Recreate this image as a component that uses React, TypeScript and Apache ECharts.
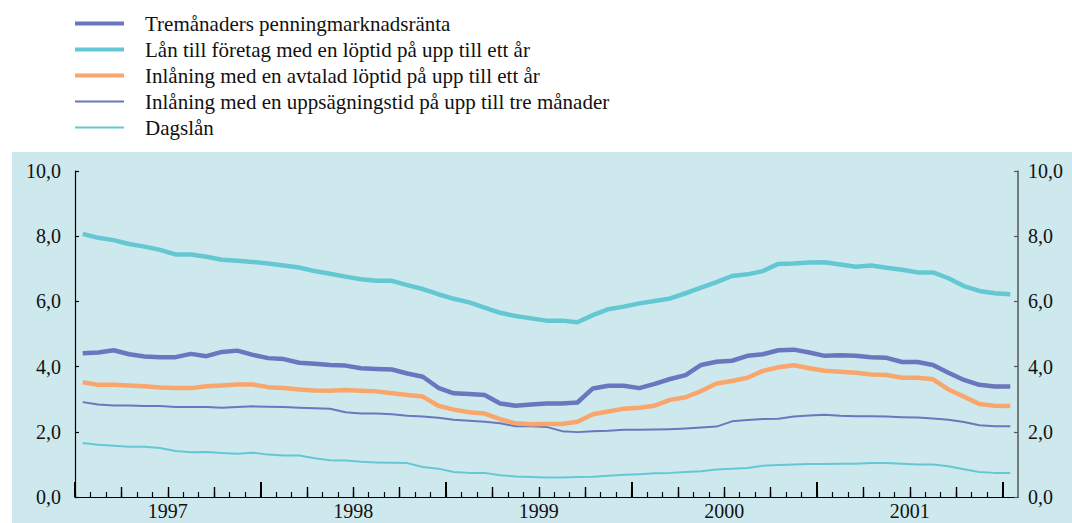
import React, { useEffect, useRef } from "react";
import * as echarts from "echarts";

const seriesNames = [
  "Tremånaders penningmarknadsränta",
  "Lån till företag med en löptid på upp till ett år",
  "Inlåning med en avtalad löptid på upp till ett år",
  "Inlåning med en uppsägningstid på upp till tre månader",
  "Dagslån",
];

const years = ["1997", "1998", "1999", "2000", "2001"];

// monthly observations Jan 1997 .. Jan 2002
const tremanad = [
  4.41, 4.43, 4.5, 4.38, 4.31, 4.29, 4.29, 4.39, 4.32, 4.45, 4.49, 4.36,
  4.26, 4.23, 4.12, 4.09, 4.05, 4.03, 3.95, 3.93, 3.91, 3.79, 3.69, 3.35,
  3.18, 3.16, 3.13, 2.87, 2.8, 2.84, 2.87, 2.87, 2.9, 3.33, 3.41, 3.41,
  3.34, 3.47, 3.62, 3.74, 4.05, 4.15, 4.18, 4.33, 4.38, 4.5, 4.52, 4.43,
  4.33, 4.35, 4.33, 4.29, 4.27, 4.14, 4.14, 4.05, 3.81, 3.59, 3.44, 3.39,
  3.39,
];
const lanForetag = [
  8.07, 7.95, 7.88, 7.76, 7.68, 7.58, 7.44, 7.44, 7.37, 7.28, 7.25, 7.21,
  7.16, 7.1, 7.04, 6.93, 6.85, 6.76, 6.68, 6.63, 6.63, 6.5, 6.38, 6.22,
  6.08, 5.97, 5.81, 5.65, 5.55, 5.48, 5.41, 5.41, 5.36, 5.58, 5.76, 5.84,
  5.94, 6.01, 6.09, 6.25, 6.42, 6.59, 6.78, 6.83, 6.93, 7.15, 7.16, 7.19,
  7.2, 7.13, 7.06, 7.1, 7.03, 6.97, 6.89, 6.89, 6.71, 6.47, 6.32, 6.25,
  6.22,
];
const avtalad = [
  3.52, 3.44, 3.44, 3.42, 3.4, 3.36, 3.34, 3.34, 3.4, 3.42, 3.45, 3.45,
  3.37, 3.34, 3.3, 3.27, 3.26, 3.28, 3.26, 3.24, 3.18, 3.13, 3.08, 2.8,
  2.68, 2.6, 2.56, 2.39, 2.26, 2.23, 2.24, 2.24, 2.31, 2.54, 2.62, 2.71,
  2.74, 2.8, 2.98, 3.06, 3.25, 3.48, 3.56, 3.66, 3.87, 3.98, 4.04, 3.95,
  3.87, 3.84, 3.81, 3.76, 3.74, 3.66, 3.66, 3.61, 3.3, 3.08, 2.85, 2.8,
  2.79,
];
const uppsagning = [
  2.91, 2.84, 2.81, 2.81, 2.79, 2.79, 2.76, 2.76, 2.76, 2.74, 2.76, 2.78,
  2.77, 2.76, 2.74, 2.72, 2.71, 2.6, 2.56, 2.56, 2.54, 2.49, 2.47, 2.43,
  2.37, 2.34, 2.31, 2.26, 2.17, 2.17, 2.15, 2.02, 1.99, 2.02, 2.03, 2.06,
  2.06, 2.07, 2.08, 2.1, 2.13, 2.16, 2.32, 2.36, 2.39, 2.4, 2.47, 2.5,
  2.52, 2.49, 2.48, 2.48, 2.47, 2.45, 2.44, 2.41, 2.37, 2.3, 2.2, 2.17,
  2.17,
];
const dagslan = [
  1.66, 1.6, 1.57, 1.54, 1.54, 1.5, 1.41, 1.37, 1.38, 1.35, 1.33, 1.36,
  1.3, 1.27, 1.27, 1.19, 1.13, 1.12, 1.08, 1.06, 1.05, 1.04, 0.92, 0.87,
  0.77, 0.74, 0.74, 0.67, 0.63, 0.61, 0.6, 0.6, 0.61, 0.62, 0.65, 0.68,
  0.7, 0.73, 0.74, 0.77, 0.79, 0.84, 0.87, 0.89, 0.96, 0.98, 1.0, 1.01,
  1.01, 1.02, 1.02, 1.04, 1.04, 1.02, 1.0, 1.0, 0.94, 0.85, 0.77, 0.74,
  0.74,
];

const allValues = [tremanad, lanForetag, avtalad, uppsagning, dagslan];
const colors = ["#6a76bd", "#64c8d2", "#f9a66c", "#6a76bd", "#64c8d2"];
const widths = [4.5, 4.5, 4.5, 2, 2];
const legendWidths = [4, 4, 4, 2, 2];

const FONT = "'Liberation Serif', 'Times New Roman', serif";
const TEXT = "#111111";

export default function App() {
  const ref = useRef<HTMLDivElement>(null);

  useEffect(() => {
    if (!ref.current) return;
    const chart = echarts.init(ref.current, undefined, { renderer: "svg" });

    const W = 1072;
    const gLeft = 75;
    const gRight = 54;
    const months = allValues[0].length; // 61
    const monthPx = (W - gLeft - gRight) / months;
    const tickRight = W - gLeft - monthPx * 60;

    const fmt = (v: number) => v.toFixed(1).replace(".", ",");

    const option: any = {
      animation: false,
      graphic: [
        {
          type: "rect",
          z: -100,
          silent: true,
          shape: { x: 12, y: 152, width: 1060, height: 371 },
          style: { fill: "#cde9ee" },
        },
      ],
      legend: {
        orient: "vertical",
        left: 73,
        top: 13,
        padding: 0,
        itemWidth: 49,
        itemHeight: 16,
        itemGap: 5,
        data: seriesNames.map((name, k) => ({
          name,
          itemStyle: { opacity: 0 },
          lineStyle: { width: legendWidths[k], color: colors[k] },
        })),
        itemStyle: { opacity: 0 },
        textStyle: {
          fontFamily: FONT,
          fontSize: 21,
          lineHeight: 16,
          color: TEXT,
          padding: [0, 0, 0, 16],
        },
      },
      grid: [
        { left: gLeft, right: gRight, top: 171, bottom: 26 },
        { left: gLeft, right: tickRight, top: 171, bottom: 26 },
        { left: gLeft, right: tickRight, top: 171, bottom: 26 },
      ],
      xAxis: [
        {
          type: "value",
          gridIndex: 0,
          min: 0,
          max: months,
          axisLine: { show: true, lineStyle: { color: "#000", width: 1.2 } },
          axisTick: { show: false },
          axisLabel: { show: false },
          splitLine: { show: false },
        },
        {
          type: "value",
          gridIndex: 1,
          min: 0,
          max: 60,
          interval: 12,
          axisLine: { show: false },
          axisTick: {
            show: true,
            inside: true,
            length: 15,
            lineStyle: { color: "#000", width: 2 },
          },
          minorTick: {
            show: true,
            splitNumber: 4,
            length: 10,
            lineStyle: { color: "#000", width: 1.4 },
          },
          axisLabel: { show: false },
          splitLine: { show: false },
        },
        {
          type: "value",
          gridIndex: 2,
          min: 0,
          max: 60,
          interval: 6,
          axisLine: { show: false },
          axisTick: {
            show: true,
            inside: true,
            length: 5,
            lineStyle: { color: "#000", width: 1.2 },
          },
          minorTick: {
            show: true,
            splitNumber: 6,
            length: 5,
            lineStyle: { color: "#000", width: 1.2 },
          },
          axisLabel: {
            show: true,
            margin: 4,
            fontFamily: FONT,
            fontSize: 20,
            color: TEXT,
            formatter: (v: number) =>
              v % 12 === 6 ? years[(v - 6) / 12] : "",
          },
          splitLine: { show: false },
        },
      ],
      yAxis: [
        {
          type: "value",
          gridIndex: 0,
          position: "left",
          min: 0,
          max: 10,
          interval: 2,
          axisLine: { show: true, lineStyle: { color: "#000", width: 1.2 } },
          axisTick: {
            show: true,
            inside: true,
            length: 4,
            lineStyle: { color: "#000", width: 1.2 },
          },
          axisLabel: {
            margin: 14,
            fontFamily: FONT,
            fontSize: 20,
            color: TEXT,
            formatter: fmt,
          },
          splitLine: { show: false },
        },
        {
          type: "value",
          gridIndex: 0,
          position: "right",
          min: 0,
          max: 10,
          interval: 2,
          axisLine: { show: true, lineStyle: { color: "#555", width: 1.5 } },
          axisTick: {
            show: true,
            inside: true,
            length: 4,
            lineStyle: { color: "#555", width: 1.2 },
          },
          axisLabel: {
            margin: 10,
            fontFamily: FONT,
            fontSize: 20,
            color: TEXT,
            formatter: fmt,
          },
          splitLine: { show: false },
        },
        { type: "value", gridIndex: 1, min: 0, max: 10, show: false },
        { type: "value", gridIndex: 2, min: 0, max: 10, show: false },
      ],
      series: seriesNames.map((name, k) => ({
        name,
        type: "line",
        xAxisIndex: 0,
        yAxisIndex: 0,
        symbol: "none",
        showSymbol: false,
        z: 10 - k,
        lineStyle: { color: colors[k], width: widths[k], join: "round" },
        itemStyle: { color: colors[k] },
        data: allValues[k].map((v, i) => [i + 0.5, v]),
      })),
    };

    chart.setOption(option);
    return () => chart.dispose();
  }, []);

  return (
    <div
      ref={ref}
      style={{
        position: "fixed",
        left: 0,
        top: 0,
        width: 1072,
        height: 523,
        background: "#ffffff",
      }}
    />
  );
}
